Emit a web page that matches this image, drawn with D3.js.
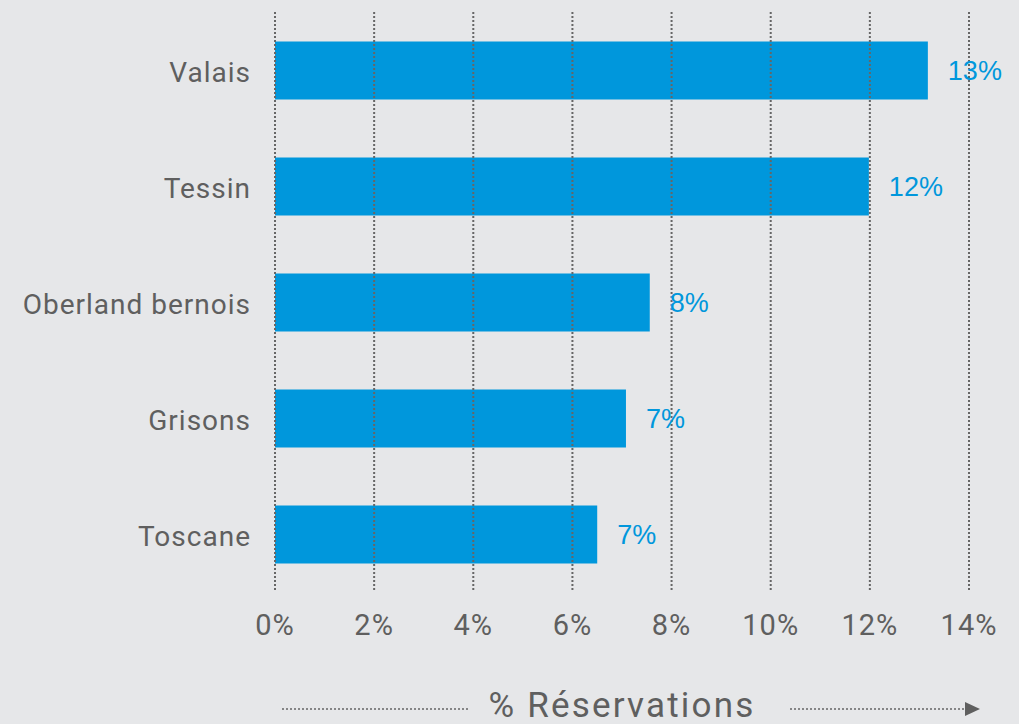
<!DOCTYPE html>
<html><head><meta charset="utf-8">
<script src="https://cdn.jsdelivr.net/npm/d3@7"></script>
<style>html,body{margin:0;padding:0;background:#e6e7e9;}</style>
</head><body>
<svg id="c" width="1019" height="724"></svg>
<script>
const categories = ["Valais","Tessin","Oberland bernois","Grisons","Toscane"];
const values = [13.17, 11.98, 7.56, 7.08, 6.5];
const valueLabels = ["13%","12%","8%","7%","7%"];
const tickValues = [0,2,4,6,8,10,12,14];
const axisTitle = "% Réservations";

const svg = d3.select("#c");
svg.append("rect").attr("width",1019).attr("height",724).attr("fill","#e6e7e9");
const x = d3.scaleLinear().domain([0,14]).range([275,969]);
const y = d3.scaleBand().domain(categories).range([12.5,592.5]).paddingInner(0.5).paddingOuter(0.25);
const blue = "#0097dc", grey = "#5f5f5f";

svg.selectAll("rect.bar").data(categories).join("rect").attr("class","bar")
  .attr("x", x(0)).attr("y", d=>y(d)).attr("height", y.bandwidth())
  .attr("width", (d,i)=>x(values[i])-x(0)).attr("fill", blue);

svg.selectAll("line.grid").data(tickValues).join("line").attr("class","grid")
  .attr("x1", d=>x(d)).attr("x2", d=>x(d)).attr("y1",12).attr("y2",592)
  .attr("stroke","#666").attr("stroke-width",2).attr("stroke-dasharray","2,2");

const font = "Roboto, 'Liberation Sans', sans-serif";
svg.selectAll("text.tick").data(tickValues).join("text").attr("class","tick")
  .attr("x", d=>x(d)).attr("y", 635).attr("text-anchor","middle")
  .attr("font-family", font).attr("font-size", 29).attr("letter-spacing", 1).attr("fill", grey)
  .text(d=>d+"%");

svg.selectAll("text.cat").data(categories).join("text").attr("class","cat")
  .attr("x", 251).attr("y", d=>y(d)+y.bandwidth()/2+11)
  .attr("text-anchor","end").attr("font-family", font).attr("font-size", 28).attr("letter-spacing", 1).attr("fill", grey)
  .text(d=>d);

svg.selectAll("text.val").data(categories).join("text").attr("class","val")
  .attr("x", (d,i)=>x(values[i])+20).attr("y", d=>y(d)+y.bandwidth()/2).attr("dy","0.35em")
  .attr("font-family", "'Liberation Sans', Arial, sans-serif").attr("font-size", 27).attr("fill", blue)
  .text((d,i)=>valueLabels[i]);

svg.append("text").attr("x", 622).attr("y", 717).attr("text-anchor","middle")
  .attr("font-family", font).attr("font-size", 35).attr("letter-spacing", 2.2).attr("fill", grey).text(axisTitle);
svg.append("line").attr("x1",282).attr("x2",470).attr("y1",709).attr("y2",709)
  .attr("stroke","#666").attr("stroke-width",1.5).attr("stroke-dasharray","2,2");
svg.append("line").attr("x1",790).attr("x2",966).attr("y1",709).attr("y2",709)
  .attr("stroke","#666").attr("stroke-width",1.5).attr("stroke-dasharray","2,2");
svg.append("path").attr("d","M965,702 L980,709 L965,716 Z").attr("fill","#5f5f5f");
</script>
</body></html>
